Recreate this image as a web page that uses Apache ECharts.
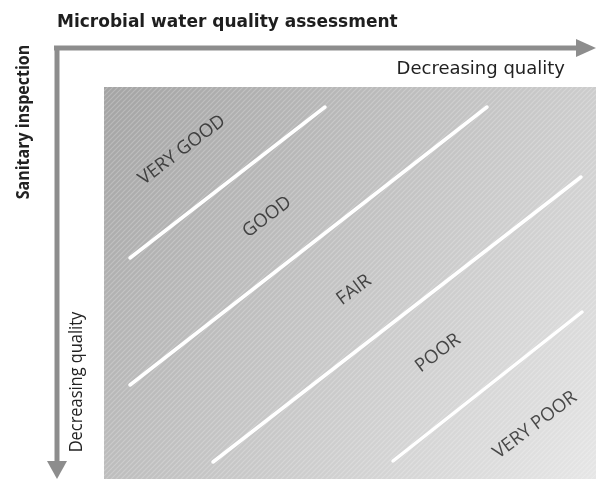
<!DOCTYPE html>
<html>
<head>
<meta charset="utf-8">
<script src="https://cdn.jsdelivr.net/npm/echarts@6/dist/echarts.min.js"></script>
<style>
html,body{margin:0;padding:0;background:#fff;}
#c{width:596px;height:479px;}
</style>
</head>
<body>
<div id="c"></div>
<script>
// ---- data (diagram units inside the shaded square: x 0..492, y 0..392 from top) ----
const bandLabels = ['VERY GOOD', 'GOOD', 'FAIR', 'POOR', 'VERY POOR'];
const labelX = [78, 163, 250, 334, 431];
const labelY = [63, 130, 203, 266, 338];
const dividerStartX = [26, 26, 109, 289];
const dividerStartY = [171, 298, 375, 374];
const dividerEndX = [221, 383, 477, 478];
const dividerEndY = [20, 20, 90, 225];
const titleText = 'Microbial water quality assessment';
const xAxisTitle = 'Decreasing quality';
const yAxisTitle = 'Sanitary inspection';
const yAxisSub = 'Decreasing quality';

// stripe pattern
const pc = document.createElement('canvas');
pc.width = 5; pc.height = 5;
const ctx = pc.getContext('2d');
ctx.strokeStyle = 'rgba(255,255,255,0.22)';
ctx.lineWidth = 1.2;
ctx.beginPath();
ctx.moveTo(-1, 6); ctx.lineTo(6, -1);
ctx.moveTo(-1, 1); ctx.lineTo(1, -1);
ctx.moveTo(4, 6); ctx.lineTo(6, 4);
ctx.stroke();

const chart = echarts.init(document.getElementById('c'), null, {renderer: 'canvas'});

const series = [];
series.push({
  type: 'line',
  data: [],
  silent: true,
  markArea: {
    silent: true,
    itemStyle: {color: {image: pc, repeat: 'repeat'}},
    data: [[{coord: [0, 0]}, {coord: [492, 392]}]]
  }
});
for (let i = 0; i < dividerStartX.length; i++) {
  series.push({
    type: 'line',
    symbol: 'none',
    silent: true,
    data: [[dividerStartX[i], dividerStartY[i]], [dividerEndX[i], dividerEndY[i]]],
    lineStyle: {color: '#ffffff', width: 3.5, cap: 'round'},
    z: 3
  });
}
series.push({
  type: 'scatter',
  symbolSize: 0,
  silent: true,
  data: bandLabels.map((n, i) => ({name: n, value: [labelX[i], labelY[i]]})),
  label: {
    show: true,
    position: 'inside',
    rotate: 37,
    formatter: p => p.name,
    color: '#222222',
    fontSize: 18.5,
    fontFamily: 'Open Sans'
  },
  z: 4
});

const arrowColor = '#8d8d8d';
const option = {
  backgroundColor: '#ffffff',
  animation: false,
  title: {
    text: titleText,
    left: 57, top: 14, padding: 0,
    textStyle: {fontFamily: 'DejaVu Sans', fontWeight: 'bold', fontSize: 17, color: '#1e1e1e'}
  },
  grid: {
    left: 104, top: 87, right: 0, bottom: 0,
    show: true,
    borderWidth: 0,
    backgroundColor: {
      type: 'linear', x: 0, y: 0, x2: 1, y2: 1,
      colorStops: [{offset: 0, color: '#a4a4a4'}, {offset: 1, color: '#e6e6e6'}]
    }
  },
  xAxis: {type: 'value', min: 0, max: 492, show: false},
  yAxis: {type: 'value', min: 0, max: 392, inverse: true, show: false},
  series: series,
  graphic: [
    {type: 'line', shape: {x1: 54, y1: 48, x2: 580, y2: 48}, style: {stroke: arrowColor, lineWidth: 5}},
    {type: 'polygon', shape: {points: [[576, 39], [596, 48], [576, 57]]}, style: {fill: arrowColor}},
    {type: 'line', shape: {x1: 57, y1: 46, x2: 57, y2: 464}, style: {stroke: arrowColor, lineWidth: 5}},
    {type: 'polygon', shape: {points: [[47, 461], [57, 479], [67, 461]]}, style: {fill: arrowColor}},
    {type: 'text', x: 565, y: 69, style: {text: xAxisTitle, textAlign: 'right', textVerticalAlign: 'middle',
      font: '18px "DejaVu Sans"', fill: '#222'}},
    {type: 'text', x: 24, y: 122, rotation: Math.PI / 2, scaleX: 0.89, style: {text: yAxisTitle, textAlign: 'center', textVerticalAlign: 'middle',
      font: 'bold 18px "Open Sans", sans-serif', fill: '#222'}},
    {type: 'text', x: 77, y: 382, rotation: Math.PI / 2, scaleX: 0.91, style: {text: yAxisSub, textAlign: 'center', textVerticalAlign: 'middle',
      font: '18px "Open Sans", sans-serif', fill: '#222'}}
  ]
};
chart.setOption(option);
</script>
</body>
</html>
